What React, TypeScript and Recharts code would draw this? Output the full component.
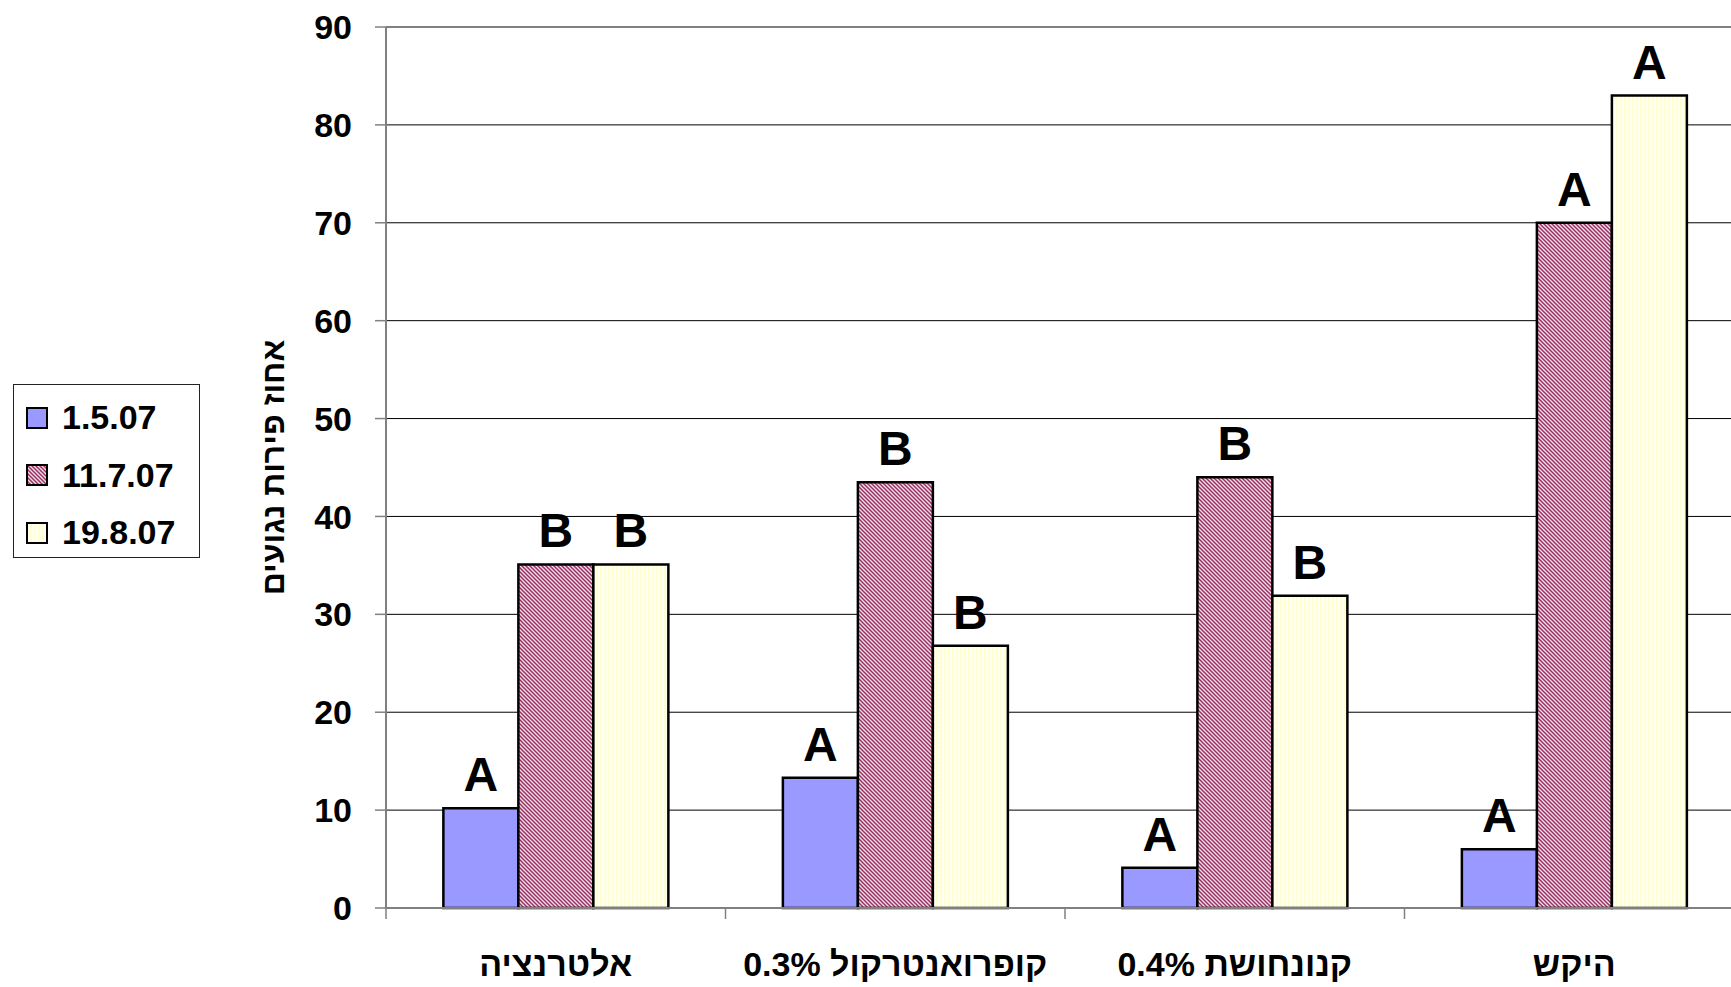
import {
  Bar,
  BarChart,
  CartesianGrid,
  LabelList,
  Legend,
  ReferenceLine,
  XAxis,
  YAxis,
} from "recharts";

// treatments (x categories) and infection % per sampling date
const categories = ["אלטרנציה", "קופרואנטרקול 0.3%", "קנונחושת 0.4%", "היקש"];
const seriesNames = ["1.5.07", "11.7.07", "19.8.07"];
const may = [10.2, 13.3, 4.1, 6];
const july = [35.1, 43.5, 44, 70];
const august = [35.1, 26.8, 31.9, 83];
// significance letters above the bars
const lettersMay = ["A", "A", "A", "A"];
const lettersJuly = ["B", "B", "B", "A"];
const lettersAugust = ["B", "B", "B", "A"];
const yTicks = [0, 10, 20, 30, 40, 50, 60, 70, 80, 90];
const yTitle = "אחוז פירות נגועים";

const rows = categories.map((name, i) => ({
  name,
  may: may[i],
  july: july[i],
  august: august[i],
  lMay: lettersMay[i],
  lJuly: lettersJuly[i],
  lAugust: lettersAugust[i],
}));

const FONT = "Arial, 'Liberation Sans', sans-serif";
const fills = ["#9999FF", "url(#hatchPink)", "url(#stripeYellow)"];
const LABEL_GAP = 44;

function LegendBox() {
  return (
    <div
      style={{
        boxSizing: "border-box",
        width: 187,
        height: 174,
        border: "1px solid #222",
        background: "#fff",
        padding: "4px 0 0 12px",
        fontFamily: FONT,
        fontWeight: "bold",
        fontSize: 34,
        color: "#000",
      }}
    >
      {seriesNames.map((n, i) => (
        <div
          key={n}
          style={{ display: "flex", alignItems: "center", height: 57.5 }}
        >
          <svg width={22} height={22} style={{ marginRight: 14 }}>
            <rect
              x={1}
              y={1}
              width={20}
              height={20}
              fill={fills[i]}
              stroke="#000"
              strokeWidth={2}
            />
          </svg>
          <span>{n}</span>
        </div>
      ))}
    </div>
  );
}

// label under the group plus a tick mark at the group's left boundary
function CategoryTick({ x, y, payload }: any) {
  const edge = x - (payload.offset ?? 0);
  const axisY = y - LABEL_GAP;
  return (
    <g>
      <line
        x1={edge}
        x2={edge}
        y1={axisY}
        y2={axisY + 11}
        stroke="#808080"
        strokeWidth={1.5}
      />
      <text
        x={x}
        y={y}
        dy={24}
        textAnchor="middle"
        fill="#000"
        fontFamily={FONT}
        fontWeight="bold"
        fontSize={34}
        style={{ direction: "rtl" }}
      >
        {payload.value}
      </text>
    </g>
  );
}

function YTitle({ viewBox }: any) {
  const cx = viewBox.x + 63;
  const cy = viewBox.y + viewBox.height / 2;
  return (
    <text
      x={cx}
      y={cy}
      transform={`rotate(-90 ${cx} ${cy})`}
      textAnchor="middle"
      dominantBaseline="central"
      fill="#000"
      fontFamily={FONT}
      fontWeight="bold"
      fontSize={32}
      style={{ direction: "rtl" }}
    >
      {yTitle}
    </text>
  );
}

const labelProps = {
  position: "top" as const,
  offset: 17,
  fill: "#000",
  fontFamily: FONT,
  fontWeight: "bold",
  fontSize: 48,
};

export default function App() {
  return (
    <div
      style={{
        position: "fixed",
        left: 0,
        top: 0,
        width: 1731,
        height: 987,
        overflow: "hidden",
        background: "#fff",
      }}
    >
      <BarChart
        width={1760}
        height={987}
        data={rows}
        margin={{ top: 27, right: 16, bottom: 0, left: 210 }}
        barCategoryGap="16.9%"
        barGap={0}
      >
        <defs>
          <pattern
            id="hatchPink"
            patternUnits="userSpaceOnUse"
            width={4}
            height={4}
          >
            <rect width={4} height={4} fill="#f4dce8" />
            <path
              d="M-1,-1 L5,5 M-1,3 L1,5 M3,-1 L5,1"
              stroke="#993366"
              strokeWidth={1.5}
            />
          </pattern>
          <pattern
            id="stripeYellow"
            patternUnits="userSpaceOnUse"
            width={4}
            height={4}
          >
            <rect width={4} height={4} fill="#FFFFF2" />
            <rect width={2} height={4} fill="#FFFFD2" />
          </pattern>
        </defs>
        <CartesianGrid vertical={false} stroke="#000" strokeWidth={1} />
        <XAxis
          dataKey="name"
          height={79}
          tickLine={false}
          tickSize={0}
          tickMargin={LABEL_GAP}
          tick={<CategoryTick />}
          axisLine={{ stroke: "#808080", strokeWidth: 2 }}
          interval={0}
        />
        <YAxis
          width={176}
          domain={[0, 90]}
          ticks={yTicks}
          interval={0}
          tickSize={11}
          tickMargin={23}
          tickLine={{ stroke: "#808080", strokeWidth: 1.5 }}
          axisLine={{ stroke: "#808080", strokeWidth: 2 }}
          tick={{
            fill: "#000",
            fontFamily: FONT,
            fontWeight: "bold",
            fontSize: 34,
          }}
          label={{ content: <YTitle /> }}
        />
        <ReferenceLine y={90} stroke="#808080" strokeWidth={2} />
        <Legend
          align="center"
          verticalAlign="middle"
          layout="horizontal"
          wrapperStyle={{ left: 13, top: 384, width: 187, height: 174 }}
          content={<LegendBox />}
        />
        <Bar
          dataKey="may"
          name={seriesNames[0]}
          fill={fills[0]}
          stroke="#000"
          strokeWidth={2.5}
          isAnimationActive={false}
        >
          <LabelList dataKey="lMay" {...labelProps} />
        </Bar>
        <Bar
          dataKey="july"
          name={seriesNames[1]}
          fill={fills[1]}
          stroke="#000"
          strokeWidth={2.5}
          isAnimationActive={false}
        >
          <LabelList dataKey="lJuly" {...labelProps} />
        </Bar>
        <Bar
          dataKey="august"
          name={seriesNames[2]}
          fill={fills[2]}
          stroke="#000"
          strokeWidth={2.5}
          isAnimationActive={false}
        >
          <LabelList dataKey="lAugust" {...labelProps} />
        </Bar>
      </BarChart>
    </div>
  );
}
